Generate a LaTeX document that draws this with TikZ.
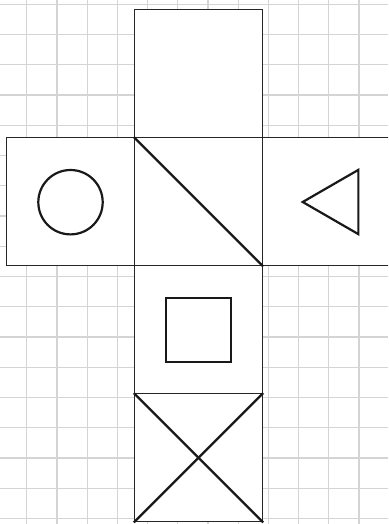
\documentclass[tikz,border=0pt]{standalone}
\usepackage{tikz}
\usetikzlibrary{shapes.geometric}
\definecolor{gridColor}{RGB}{212,212,212}

\begin{document}
\begin{tikzpicture}[
    x=0.5pt, y=-0.5pt,
    face/.style={rectangle, draw=black!85, fill=white, line width=0.65pt, minimum size=64pt, inner sep=0pt},
    symbol/.style={draw=black!90, line width=1.1pt, inner sep=0pt},
    mark line/.style={draw=black!90, line width=1.1pt}
]
    % Frame
    \useasboundingbox (0,0) rectangle (388,524);
    \clip (0,0) rectangle (388,524);

    % Grid paper
    \foreach \k in {0,...,12}
        \draw[gridColor, line width=0.6pt] ({26.7+30.2*\k},0) -- ({26.7+30.2*\k},524);
    \foreach \k in {0,...,17}
        \draw[gridColor, line width=0.6pt] (0,{4.3+30.25*\k}) -- (388,{4.3+30.25*\k});

    % Faces of the net
    \node[face] (top) at (198.5,73.7) {};
    \node[face] (left) at (70.5,201.7) {};
    \node[face] (middle) at (198.5,201.7) {};
    \node[face] (right) at (326.5,201.7) {};
    \node[face] (lower) at (198.5,329.7) {};
    \node[face] (bottom) at (198.5,457.7) {};

    % Symbols on the faces
    \node[symbol, circle, minimum size=32.2pt] (ring) at (70.5,202.2) {};
    \node[symbol, regular polygon, regular polygon sides=3, shape border rotate=90, minimum size=37.1pt] (tri) at (339.8,202) {};
    \node[symbol, rectangle, minimum width=32.5pt, minimum height=32pt] (box) at (198.2,330.3) {};

    % Diagonals
    \draw[mark line] (middle.north west) -- (middle.south east);
    \draw[mark line] (bottom.north west) -- (bottom.south east);
    \draw[mark line] (bottom.south west) -- (bottom.north east);
\end{tikzpicture}
\end{document}
